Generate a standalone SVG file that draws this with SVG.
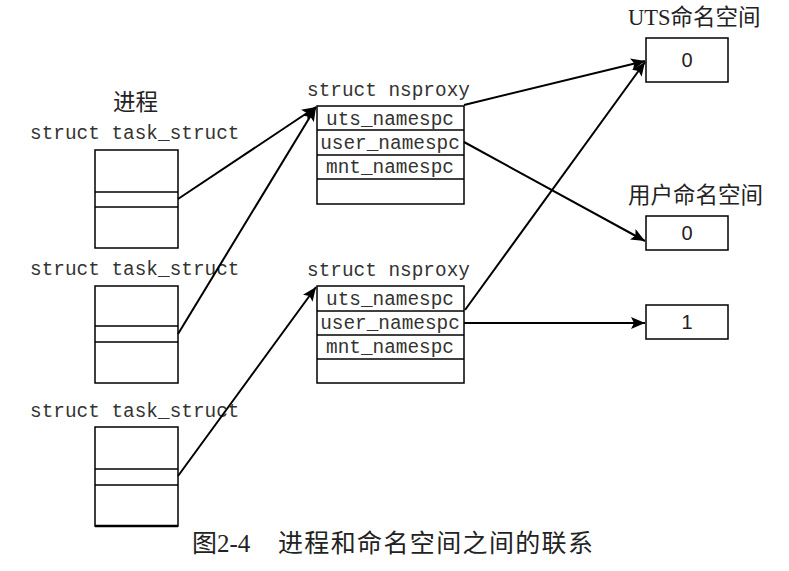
<svg xmlns="http://www.w3.org/2000/svg" width="789" height="571" viewBox="0 0 789 571">
<style>
.box{fill:#fff;stroke:#000;stroke-width:1.5}
.div{stroke:#000;stroke-width:1.5}
.mono{font-family:"Liberation Mono","DejaVu Sans Mono",monospace;font-size:19.4px;fill:#333}
.field{font-family:"Liberation Mono","DejaVu Sans Mono",monospace;font-size:19.4px;fill:#333;text-anchor:middle}
.cjk{font-family:"Liberation Serif","Noto Sans CJK SC",serif;font-size:22.5px;fill:#222}
.num{font-family:"Liberation Sans",Arial,sans-serif;font-size:20px;fill:#222;text-anchor:middle}
.conn{fill:none;stroke:#000;stroke-width:2;marker-end:url(#arr)}
</style>
<defs>
<marker id="arr" markerUnits="userSpaceOnUse" markerWidth="16" markerHeight="12" refX="14" refY="6" orient="auto">
<path d="M0,0 L14,6 L0,12 L3,6 Z" fill="#000"/>
</marker>
</defs>
<rect width="789" height="571" fill="#fff"/>

<text class="cjk" x="113" y="110">进程</text>

<g id="task1">
<text class="mono" x="30" y="139">struct task_struct</text>
<rect class="box" x="95" y="150" width="83" height="98"/>
<line class="div" x1="95" y1="192" x2="178" y2="192"/>
<line class="div" x1="95" y1="207" x2="178" y2="207"/>
</g>
<g id="task2">
<text class="mono" x="30" y="275">struct task_struct</text>
<rect class="box" x="95" y="286" width="83" height="97"/>
<line class="div" x1="95" y1="326" x2="178" y2="326"/>
<line class="div" x1="95" y1="342" x2="178" y2="342"/>
</g>
<g id="task3">
<text class="mono" x="30" y="417">struct task_struct</text>
<rect class="box" x="95" y="427" width="83" height="99"/>
<line class="div" x1="95" y1="469" x2="178" y2="469"/>
<line class="div" x1="95" y1="485" x2="178" y2="485"/>
<line x1="95" y1="526" x2="178" y2="526" stroke="#000" stroke-width="2.5"/>
</g>

<g id="nsproxy1">
<text class="mono" x="307" y="96">struct nsproxy</text>
<rect class="box" x="317" y="106" width="147" height="98"/>
<line class="div" x1="317" y1="130" x2="464" y2="130"/>
<line class="div" x1="317" y1="155" x2="464" y2="155"/>
<line class="div" x1="317" y1="179" x2="464" y2="179"/>
<text class="field" x="390" y="125">uts_namespc</text>
<text class="field" x="390" y="149">user_namespc</text>
<text class="field" x="390" y="173">mnt_namespc</text>
</g>
<g id="nsproxy2">
<text class="mono" x="307" y="276">struct nsproxy</text>
<rect class="box" x="317" y="286" width="147" height="97"/>
<line class="div" x1="317" y1="311" x2="464" y2="311"/>
<line class="div" x1="317" y1="335" x2="464" y2="335"/>
<line class="div" x1="317" y1="359" x2="464" y2="359"/>
<text class="field" x="390" y="305">uts_namespc</text>
<text class="field" x="390" y="329">user_namespc</text>
<text class="field" x="390" y="353">mnt_namespc</text>
</g>

<g id="uts0">
<text class="cjk" x="628" y="25">UTS命名空间</text>
<rect class="box" x="646" y="38" width="82" height="44"/>
<text class="num" x="687" y="67">0</text>
</g>
<g id="user0">
<text class="cjk" x="628" y="203">用户命名空间</text>
<rect class="box" x="646" y="216" width="82" height="34"/>
<text class="num" x="687" y="240">0</text>
</g>
<g id="user1">
<rect class="box" x="646" y="305" width="82" height="34"/>
<text class="num" x="687" y="329">1</text>
</g>

<g id="connectors">
<line class="conn" x1="178" y1="199" x2="316" y2="107"/>
<line class="conn" x1="178" y1="334" x2="316" y2="107"/>
<line class="conn" x1="178" y1="476" x2="316" y2="287"/>
<line class="conn" x1="464" y1="105" x2="645" y2="61"/>
<line class="conn" x1="464" y1="142" x2="645" y2="241"/>
<line class="conn" x1="465" y1="310" x2="645" y2="62"/>
<line class="conn" x1="464" y1="323" x2="645" y2="323"/>
</g>

<text class="cjk" x="192" y="552" style="font-size:25px">图2-4</text>
<text class="cjk" x="278" y="552" style="font-size:25px" textLength="315" lengthAdjust="spacing">进程和命名空间之间的联系</text>
</svg>
